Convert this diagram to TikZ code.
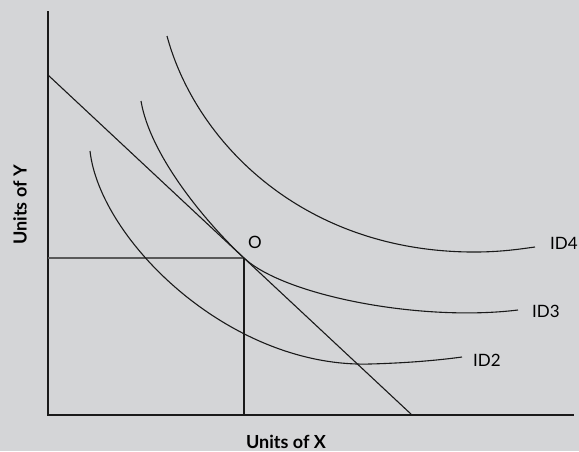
\documentclass[tikz,border=0pt]{standalone}
\usepackage{fontspec}
\setmainfont{Lato}
\usepackage{xcolor}
\usetikzlibrary{positioning, calc}

\definecolor{bggray}{HTML}{D4D5D7}
\definecolor{lblack}{HTML}{1A1A1A}

\tikzset{
  curve/.style={lblack, line width=1.1pt},
  axis/.style={lblack, line width=1.3pt},
  lbl/.style={font=\fontsize{17}{20}\selectfont, inner sep=0pt},
  axlbl/.style={font=\fontsize{18}{21}\selectfont\bfseries, inner sep=0pt}
}

\begin{document}
\begin{tikzpicture}[x=1pt, y=-1pt]
% Background
\fill[bggray] (0,0) rectangle (579,451);
\useasboundingbox (0,0) rectangle (579,451);

% Axes
\coordinate (orig) at (48,415);
\coordinate (ytop) at (48,11);
\coordinate (xend) at (574,415);
\draw[axis] (ytop) -- (orig) -- (xend);
\node[axlbl, rotate=90] (ylab) at (20,205) {Units of Y};
\node[axlbl] (xlab) at (286,442) {Units of X};

% Budget line
\coordinate (bl0) at (48,75);
\coordinate (bl1) at (412,415);
\draw[curve] (bl0) -- (bl1);

% Optimum point and guides
\coordinate (opt) at (244,258);
\draw[line width=1.6pt, black!65] (opt) -- (opt -| orig);
\draw[curve] (opt) -- (opt |- orig);
\node[lbl] (olab) at (255,242) {O};

% Indifference curves
\draw[curve] (167,36) .. controls (195,140) and (300,250) .. (470,252)
  .. controls (500,252.3) and (520,249) .. (535,247);
\draw[curve] (141,101) .. controls (150,155) and (205,221.6) .. (opt)
  .. controls (284,295.4) and (420,322) .. (518,310);
\draw[curve] (90,151) .. controls (100,240) and (230,368) .. (370,364)
  .. controls (410,362.9) and (440,360) .. (462,357);

\node[lbl, anchor=west] (id4) at (550,243) {ID4};
\node[lbl, anchor=west] (id3) at (532,311) {ID3};
\node[lbl, anchor=west] (id2) at (473,360) {ID2};
\end{tikzpicture}
\end{document}
